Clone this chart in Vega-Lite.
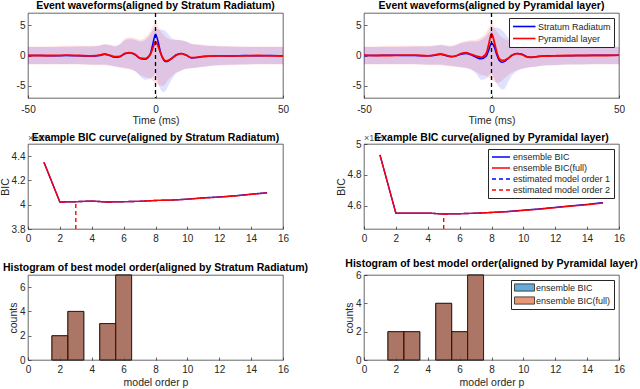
{
  "$schema": "https://vega.github.io/schema/vega-lite/v6.json",
  "padding": {"left": 0, "top": 0, "right": 0, "bottom": 0},
  "background": "white",
  "columns": 2,
  "spacing": {"row": 46, "column": 81},
  "bounds": "flush",
  "resolve": {
    "scale": {"stroke": "independent", "strokeDash": "independent", "fill": "independent", "color": "independent"},
    "legend": {"stroke": "independent", "strokeDash": "independent", "fill": "independent", "color": "independent"}
  },
  "datasets": {
    "w1": [
      {"t": -50, "sr": 0, "srlo": -1.4, "srhi": 1.4, "py": 0, "pylo": -1.5, "pyhi": 1.5},
      {"t": -45, "sr": 0, "srlo": -1.4, "srhi": 1.4, "py": 0, "pylo": -1.5, "pyhi": 1.5},
      {"t": -40, "sr": -0.05, "srlo": -1.4, "srhi": 1.4, "py": 0, "pylo": -1.5, "pyhi": 1.5},
      {"t": -35, "sr": 0, "srlo": -1.4, "srhi": 1.4, "py": 0.05, "pylo": -1.5, "pyhi": 1.6},
      {"t": -30, "sr": -0.05, "srlo": -1.4, "srhi": 1.5, "py": 0, "pylo": -1.5, "pyhi": 1.6},
      {"t": -25, "sr": -0.1, "srlo": -1.5, "srhi": 1.5, "py": -0.05, "pylo": -1.6, "pyhi": 1.6},
      {"t": -22, "sr": 0, "srlo": -1.5, "srhi": 1.6, "py": 0.05, "pylo": -1.6, "pyhi": 1.7},
      {"t": -20, "sr": 0.2, "srlo": -1.5, "srhi": 1.8, "py": 0.25, "pylo": -1.6, "pyhi": 1.9},
      {"t": -18, "sr": 0, "srlo": -1.6, "srhi": 1.7, "py": 0.05, "pylo": -1.7, "pyhi": 1.8},
      {"t": -16, "sr": -0.3, "srlo": -1.8, "srhi": 1.5, "py": -0.2, "pylo": -1.8, "pyhi": 1.6},
      {"t": -14, "sr": -0.2, "srlo": -1.9, "srhi": 1.8, "py": -0.15, "pylo": -2.0, "pyhi": 1.9},
      {"t": -12, "sr": 0.3, "srlo": -2.0, "srhi": 2.5, "py": 0.35, "pylo": -2.2, "pyhi": 2.8},
      {"t": -10, "sr": 0.45, "srlo": -2.2, "srhi": 2.7, "py": 0.45, "pylo": -2.3, "pyhi": 3.0},
      {"t": -8, "sr": 0.1, "srlo": -2.6, "srhi": 2.6, "py": 0.2, "pylo": -2.6, "pyhi": 2.8},
      {"t": -6, "sr": -0.5, "srlo": -3.4, "srhi": 2.3, "py": -0.45, "pylo": -3.2, "pyhi": 2.6},
      {"t": -4, "sr": -0.6, "srlo": -4.0, "srhi": 2.6, "py": -0.5, "pylo": -3.6, "pyhi": 3.0},
      {"t": -2, "sr": 0.3, "srlo": -3.8, "srhi": 3.5, "py": 0.2, "pylo": -3.8, "pyhi": 4.0},
      {"t": -1, "sr": 2.0, "srlo": -3.5, "srhi": 4.2, "py": 1.3, "pylo": -4.2, "pyhi": 4.8},
      {"t": 0, "sr": 3.5, "srlo": -3.0, "srhi": 4.4, "py": 2.3, "pylo": -4.5, "pyhi": 5.3},
      {"t": 1, "sr": 2.3, "srlo": -4.5, "srhi": 4.3, "py": 1.6, "pylo": -4.8, "pyhi": 4.8},
      {"t": 2, "sr": 0.5, "srlo": -5.6, "srhi": 4.3, "py": 0.4, "pylo": -5.0, "pyhi": 4.0},
      {"t": 3, "sr": -0.6, "srlo": -6.0, "srhi": 4.2, "py": -0.5, "pylo": -5.0, "pyhi": 3.5},
      {"t": 4, "sr": -1.0, "srlo": -5.8, "srhi": 4.0, "py": -0.9, "pylo": -4.6, "pyhi": 3.0},
      {"t": 5, "sr": -0.9, "srlo": -5.0, "srhi": 3.5, "py": -0.8, "pylo": -4.0, "pyhi": 2.8},
      {"t": 6, "sr": -0.6, "srlo": -4.2, "srhi": 3.0, "py": -0.6, "pylo": -3.6, "pyhi": 2.6},
      {"t": 8, "sr": 0.1, "srlo": -3.0, "srhi": 2.6, "py": 0.0, "pylo": -2.8, "pyhi": 2.6},
      {"t": 10, "sr": 0.35, "srlo": -2.5, "srhi": 2.5, "py": 0.3, "pylo": -2.5, "pyhi": 2.5},
      {"t": 12, "sr": 0.1, "srlo": -2.2, "srhi": 2.3, "py": 0.05, "pylo": -2.2, "pyhi": 2.3},
      {"t": 14, "sr": -0.4, "srlo": -2.1, "srhi": 1.9, "py": -0.35, "pylo": -2.1, "pyhi": 2.0},
      {"t": 16, "sr": -0.35, "srlo": -2.0, "srhi": 1.8, "py": -0.3, "pylo": -2.0, "pyhi": 1.8},
      {"t": 18, "sr": -0.2, "srlo": -1.9, "srhi": 1.7, "py": -0.2, "pylo": -1.9, "pyhi": 1.8},
      {"t": 20, "sr": -0.15, "srlo": -1.8, "srhi": 1.6, "py": -0.1, "pylo": -1.8, "pyhi": 1.7},
      {"t": 22, "sr": -0.1, "srlo": -1.7, "srhi": 1.6, "py": -0.1, "pylo": -1.7, "pyhi": 1.6},
      {"t": 25, "sr": -0.05, "srlo": -1.6, "srhi": 1.5, "py": -0.05, "pylo": -1.6, "pyhi": 1.6},
      {"t": 30, "sr": -0.1, "srlo": -1.5, "srhi": 1.5, "py": -0.05, "pylo": -1.6, "pyhi": 1.5},
      {"t": 35, "sr": 0, "srlo": -1.5, "srhi": 1.4, "py": -0.05, "pylo": -1.5, "pyhi": 1.5},
      {"t": 40, "sr": -0.05, "srlo": -1.4, "srhi": 1.4, "py": 0, "pylo": -1.5, "pyhi": 1.5},
      {"t": 45, "sr": 0, "srlo": -1.4, "srhi": 1.4, "py": -0.05, "pylo": -1.5, "pyhi": 1.5},
      {"t": 50, "sr": -0.05, "srlo": -1.4, "srhi": 1.4, "py": -0.1, "pylo": -1.5, "pyhi": 1.5}
    ],
    "w2": [
      {"t": -50, "sr": 0, "srlo": -1.4, "srhi": 1.4, "py": 0.05, "pylo": -1.5, "pyhi": 1.5},
      {"t": -45, "sr": 0, "srlo": -1.4, "srhi": 1.4, "py": 0, "pylo": -1.5, "pyhi": 1.5},
      {"t": -40, "sr": 0.05, "srlo": -1.4, "srhi": 1.4, "py": 0, "pylo": -1.5, "pyhi": 1.6},
      {"t": -35, "sr": 0, "srlo": -1.4, "srhi": 1.4, "py": 0.05, "pylo": -1.5, "pyhi": 1.6},
      {"t": -30, "sr": 0, "srlo": -1.4, "srhi": 1.5, "py": 0.05, "pylo": -1.5, "pyhi": 1.6},
      {"t": -25, "sr": -0.05, "srlo": -1.5, "srhi": 1.5, "py": -0.05, "pylo": -1.6, "pyhi": 1.6},
      {"t": -22, "sr": 0.05, "srlo": -1.5, "srhi": 1.6, "py": 0.1, "pylo": -1.6, "pyhi": 1.7},
      {"t": -20, "sr": 0.2, "srlo": -1.5, "srhi": 1.7, "py": 0.25, "pylo": -1.6, "pyhi": 1.8},
      {"t": -18, "sr": 0, "srlo": -1.6, "srhi": 1.6, "py": 0.05, "pylo": -1.7, "pyhi": 1.7},
      {"t": -16, "sr": -0.2, "srlo": -1.7, "srhi": 1.5, "py": -0.15, "pylo": -1.8, "pyhi": 1.6},
      {"t": -14, "sr": -0.1, "srlo": -1.8, "srhi": 1.7, "py": -0.05, "pylo": -1.9, "pyhi": 1.8},
      {"t": -12, "sr": 0.2, "srlo": -1.9, "srhi": 2.0, "py": 0.3, "pylo": -2.0, "pyhi": 2.2},
      {"t": -10, "sr": 0.35, "srlo": -2.0, "srhi": 2.2, "py": 0.45, "pylo": -2.1, "pyhi": 2.4},
      {"t": -8, "sr": 0.1, "srlo": -2.3, "srhi": 2.3, "py": 0.2, "pylo": -2.3, "pyhi": 2.5},
      {"t": -6, "sr": -0.3, "srlo": -3.0, "srhi": 2.3, "py": -0.1, "pylo": -2.7, "pyhi": 2.6},
      {"t": -4, "sr": -0.55, "srlo": -4.0, "srhi": 2.6, "py": -0.3, "pylo": -3.2, "pyhi": 3.0},
      {"t": -2, "sr": -0.1, "srlo": -3.8, "srhi": 3.3, "py": 0.4, "pylo": -3.4, "pyhi": 3.8},
      {"t": -1, "sr": 1.0, "srlo": -3.2, "srhi": 3.8, "py": 2.0, "pylo": -3.6, "pyhi": 4.6},
      {"t": 0, "sr": 2.0, "srlo": -3.0, "srhi": 4.3, "py": 3.6, "pylo": -4.0, "pyhi": 5.3},
      {"t": 1, "sr": 1.5, "srlo": -3.8, "srhi": 4.5, "py": 2.4, "pylo": -4.3, "pyhi": 4.8},
      {"t": 2, "sr": 0.2, "srlo": -4.6, "srhi": 4.6, "py": 0.6, "pylo": -4.5, "pyhi": 4.0},
      {"t": 3, "sr": -0.8, "srlo": -5.2, "srhi": 4.5, "py": -0.5, "pylo": -4.4, "pyhi": 3.4},
      {"t": 4, "sr": -1.1, "srlo": -5.6, "srhi": 4.2, "py": -0.8, "pylo": -4.2, "pyhi": 3.0},
      {"t": 5, "sr": -1.0, "srlo": -5.5, "srhi": 3.8, "py": -0.8, "pylo": -3.8, "pyhi": 2.8},
      {"t": 6, "sr": -0.7, "srlo": -4.8, "srhi": 3.2, "py": -0.6, "pylo": -3.4, "pyhi": 2.6},
      {"t": 8, "sr": 0.05, "srlo": -3.3, "srhi": 2.6, "py": 0.0, "pylo": -2.8, "pyhi": 2.5},
      {"t": 10, "sr": 0.35, "srlo": -2.6, "srhi": 2.4, "py": 0.3, "pylo": -2.4, "pyhi": 2.4},
      {"t": 12, "sr": 0.2, "srlo": -2.2, "srhi": 2.2, "py": 0.15, "pylo": -2.2, "pyhi": 2.2},
      {"t": 14, "sr": -0.2, "srlo": -2.0, "srhi": 1.9, "py": -0.25, "pylo": -2.0, "pyhi": 1.9},
      {"t": 16, "sr": -0.3, "srlo": -1.9, "srhi": 1.7, "py": -0.3, "pylo": -1.9, "pyhi": 1.8},
      {"t": 18, "sr": -0.15, "srlo": -1.8, "srhi": 1.6, "py": -0.2, "pylo": -1.8, "pyhi": 1.7},
      {"t": 20, "sr": -0.1, "srlo": -1.7, "srhi": 1.6, "py": -0.1, "pylo": -1.7, "pyhi": 1.6},
      {"t": 22, "sr": -0.05, "srlo": -1.6, "srhi": 1.5, "py": -0.1, "pylo": -1.6, "pyhi": 1.6},
      {"t": 25, "sr": -0.05, "srlo": -1.6, "srhi": 1.5, "py": -0.05, "pylo": -1.6, "pyhi": 1.5},
      {"t": 30, "sr": -0.05, "srlo": -1.5, "srhi": 1.4, "py": 0, "pylo": -1.5, "pyhi": 1.5},
      {"t": 35, "sr": 0, "srlo": -1.5, "srhi": 1.4, "py": 0, "pylo": -1.5, "pyhi": 1.5},
      {"t": 40, "sr": 0.05, "srlo": -1.4, "srhi": 1.4, "py": 0, "pylo": -1.5, "pyhi": 1.5},
      {"t": 45, "sr": 0.05, "srlo": -1.4, "srhi": 1.4, "py": 0, "pylo": -1.5, "pyhi": 1.5},
      {"t": 50, "sr": 0.05, "srlo": -1.4, "srhi": 1.4, "py": 0.05, "pylo": -1.5, "pyhi": 1.5}
    ],
    "b1": [
      {"s": "ensemble BIC", "p": 1, "bic": 4.35},
      {"s": "ensemble BIC", "p": 2, "bic": 4.022},
      {"s": "ensemble BIC", "p": 3, "bic": 4.025},
      {"s": "ensemble BIC", "p": 4, "bic": 4.03},
      {"s": "ensemble BIC", "p": 5, "bic": 4.022},
      {"s": "ensemble BIC", "p": 6, "bic": 4.025},
      {"s": "ensemble BIC", "p": 7, "bic": 4.028},
      {"s": "ensemble BIC", "p": 8, "bic": 4.035},
      {"s": "ensemble BIC", "p": 9, "bic": 4.038},
      {"s": "ensemble BIC", "p": 10, "bic": 4.046},
      {"s": "ensemble BIC", "p": 11, "bic": 4.057},
      {"s": "ensemble BIC", "p": 12, "bic": 4.064},
      {"s": "ensemble BIC", "p": 13, "bic": 4.074},
      {"s": "ensemble BIC", "p": 14, "bic": 4.087},
      {"s": "ensemble BIC", "p": 15, "bic": 4.099},
      {"s": "ensemble BIC(full)", "p": 1, "bic": 4.35},
      {"s": "ensemble BIC(full)", "p": 2, "bic": 4.022},
      {"s": "ensemble BIC(full)", "p": 3, "bic": 4.025},
      {"s": "ensemble BIC(full)", "p": 4, "bic": 4.03},
      {"s": "ensemble BIC(full)", "p": 5, "bic": 4.022},
      {"s": "ensemble BIC(full)", "p": 6, "bic": 4.025},
      {"s": "ensemble BIC(full)", "p": 7, "bic": 4.028},
      {"s": "ensemble BIC(full)", "p": 8, "bic": 4.035},
      {"s": "ensemble BIC(full)", "p": 9, "bic": 4.038},
      {"s": "ensemble BIC(full)", "p": 10, "bic": 4.045},
      {"s": "ensemble BIC(full)", "p": 11, "bic": 4.055},
      {"s": "ensemble BIC(full)", "p": 12, "bic": 4.062},
      {"s": "ensemble BIC(full)", "p": 13, "bic": 4.072},
      {"s": "ensemble BIC(full)", "p": 14, "bic": 4.085},
      {"s": "ensemble BIC(full)", "p": 15, "bic": 4.097},
      {"s": "estimated model order 2", "p": 3, "bic": 3.8},
      {"s": "estimated model order 2", "p": 3, "bic": 4.025}
    ],
    "b2": [
      {"s": "ensemble BIC", "p": 1, "bic": 4.93},
      {"s": "ensemble BIC", "p": 2, "bic": 4.552},
      {"s": "ensemble BIC", "p": 3, "bic": 4.552},
      {"s": "ensemble BIC", "p": 4, "bic": 4.553},
      {"s": "ensemble BIC", "p": 5, "bic": 4.547},
      {"s": "ensemble BIC", "p": 6, "bic": 4.549},
      {"s": "ensemble BIC", "p": 7, "bic": 4.552},
      {"s": "ensemble BIC", "p": 8, "bic": 4.557},
      {"s": "ensemble BIC", "p": 9, "bic": 4.563},
      {"s": "ensemble BIC", "p": 10, "bic": 4.572},
      {"s": "ensemble BIC", "p": 11, "bic": 4.58},
      {"s": "ensemble BIC", "p": 12, "bic": 4.59},
      {"s": "ensemble BIC", "p": 13, "bic": 4.6},
      {"s": "ensemble BIC", "p": 14, "bic": 4.609},
      {"s": "ensemble BIC", "p": 15, "bic": 4.621},
      {"s": "ensemble BIC(full)", "p": 1, "bic": 4.93},
      {"s": "ensemble BIC(full)", "p": 2, "bic": 4.552},
      {"s": "ensemble BIC(full)", "p": 3, "bic": 4.552},
      {"s": "ensemble BIC(full)", "p": 4, "bic": 4.553},
      {"s": "ensemble BIC(full)", "p": 5, "bic": 4.547},
      {"s": "ensemble BIC(full)", "p": 6, "bic": 4.549},
      {"s": "ensemble BIC(full)", "p": 7, "bic": 4.552},
      {"s": "ensemble BIC(full)", "p": 8, "bic": 4.557},
      {"s": "ensemble BIC(full)", "p": 9, "bic": 4.562},
      {"s": "ensemble BIC(full)", "p": 10, "bic": 4.57},
      {"s": "ensemble BIC(full)", "p": 11, "bic": 4.578},
      {"s": "ensemble BIC(full)", "p": 12, "bic": 4.588},
      {"s": "ensemble BIC(full)", "p": 13, "bic": 4.598},
      {"s": "ensemble BIC(full)", "p": 14, "bic": 4.607},
      {"s": "ensemble BIC(full)", "p": 15, "bic": 4.618},
      {"s": "estimated model order 2", "p": 5, "bic": 4.45},
      {"s": "estimated model order 2", "p": 5, "bic": 4.547}
    ],
    "h1": [
      {"series": "ensemble BIC", "lo": 1.5, "hi": 2.5, "count": 2},
      {"series": "ensemble BIC", "lo": 2.5, "hi": 3.5, "count": 4},
      {"series": "ensemble BIC", "lo": 4.5, "hi": 5.5, "count": 3},
      {"series": "ensemble BIC", "lo": 5.5, "hi": 6.5, "count": 7},
      {"series": "ensemble BIC(full)", "lo": 1.5, "hi": 2.5, "count": 2},
      {"series": "ensemble BIC(full)", "lo": 2.5, "hi": 3.5, "count": 4},
      {"series": "ensemble BIC(full)", "lo": 4.5, "hi": 5.5, "count": 3},
      {"series": "ensemble BIC(full)", "lo": 5.5, "hi": 6.5, "count": 7}
    ],
    "h2": [
      {"series": "ensemble BIC", "lo": 1.5, "hi": 2.5, "count": 2},
      {"series": "ensemble BIC", "lo": 2.5, "hi": 3.5, "count": 2},
      {"series": "ensemble BIC", "lo": 4.5, "hi": 5.5, "count": 4},
      {"series": "ensemble BIC", "lo": 5.5, "hi": 6.5, "count": 2},
      {"series": "ensemble BIC", "lo": 6.5, "hi": 7.5, "count": 6},
      {"series": "ensemble BIC(full)", "lo": 1.5, "hi": 2.5, "count": 2},
      {"series": "ensemble BIC(full)", "lo": 2.5, "hi": 3.5, "count": 2},
      {"series": "ensemble BIC(full)", "lo": 4.5, "hi": 5.5, "count": 4},
      {"series": "ensemble BIC(full)", "lo": 5.5, "hi": 6.5, "count": 2},
      {"series": "ensemble BIC(full)", "lo": 6.5, "hi": 7.5, "count": 6}
    ]
  },
  "concat": [
    {
      "width": 255, "height": 85,
      "title": {"text": "Event waveforms(aligned by Stratum Radiatum)", "offset": 1},
      "data": {"name": "w1"},
      "layer": [
        {"mark": {"type": "area", "color": "#ff0000", "opacity": 0.12, "interpolate": "monotone"},
         "encoding": {
           "x": {"field": "t", "type": "quantitative", "scale": {"domain": [-50, 50], "nice": false}, "axis": {"values": [-50, 0, 50], "title": "Time (ms)", "labelExpr": "'' + datum.value"}},
           "y": {"field": "pylo", "type": "quantitative", "scale": {"domain": [-7, 7], "nice": false}, "axis": {"values": [-5, 0, 5], "title": null, "labelExpr": "'' + datum.value"}},
           "y2": {"field": "pyhi"}}},
        {"mark": {"type": "area", "color": "#0000ff", "opacity": 0.12, "interpolate": "monotone"},
         "encoding": {"x": {"field": "t", "type": "quantitative"}, "y": {"field": "srlo", "type": "quantitative"}, "y2": {"field": "srhi"}}},
        {"mark": {"type": "line", "strokeWidth": 1.5, "interpolate": "monotone"},
         "encoding": {"x": {"field": "t", "type": "quantitative"}, "y": {"field": "sr", "type": "quantitative"},
           "stroke": {"datum": "Stratum Radiatum", "type": "nominal", "scale": {"domain": ["Stratum Radiatum", "Pyramidal layer"], "range": ["#0000ff", "#ff0000"]}, "legend": null}}},
        {"mark": {"type": "line", "strokeWidth": 1.8, "interpolate": "monotone"},
         "encoding": {"x": {"field": "t", "type": "quantitative"}, "y": {"field": "py", "type": "quantitative"},
           "stroke": {"datum": "Pyramidal layer", "type": "nominal", "legend": null}}},
        {"data": {"values": [{"t": 0}]},
         "mark": {"type": "rule", "color": "black", "strokeDash": [4, 3], "strokeWidth": 1.3},
         "encoding": {"x": {"field": "t", "type": "quantitative"}}}
      ]
    },
    {
      "width": 255, "height": 85,
      "title": {"text": "Event waveforms(aligned by Pyramidal layer)", "offset": 1},
      "data": {"name": "w2"},
      "layer": [
        {"mark": {"type": "area", "color": "#ff0000", "opacity": 0.12, "interpolate": "monotone"},
         "encoding": {
           "x": {"field": "t", "type": "quantitative", "scale": {"domain": [-50, 50], "nice": false}, "axis": {"values": [-50, 0, 50], "title": "Time (ms)", "labelExpr": "'' + datum.value"}},
           "y": {"field": "pylo", "type": "quantitative", "scale": {"domain": [-7, 7], "nice": false}, "axis": {"values": [-5, 0, 5], "title": null, "labelExpr": "'' + datum.value"}},
           "y2": {"field": "pyhi"}}},
        {"mark": {"type": "area", "color": "#0000ff", "opacity": 0.12, "interpolate": "monotone"},
         "encoding": {"x": {"field": "t", "type": "quantitative"}, "y": {"field": "srlo", "type": "quantitative"}, "y2": {"field": "srhi"}}},
        {"mark": {"type": "line", "strokeWidth": 1.5, "interpolate": "monotone"},
         "encoding": {"x": {"field": "t", "type": "quantitative"}, "y": {"field": "sr", "type": "quantitative"},
           "stroke": {"datum": "Stratum Radiatum", "type": "nominal", "scale": {"domain": ["Stratum Radiatum", "Pyramidal layer"], "range": ["#0000ff", "#ff0000"]},
             "legend": {"title": null, "orient": "top-right", "offset": 5, "fillColor": "white", "strokeColor": "#262626", "padding": 3, "labelFontSize": 9, "symbolType": "M-1,0H4", "symbolSize": 81, "symbolStrokeWidth": 1.6, "rowPadding": 1, "labelOffset": 15}}}},
        {"mark": {"type": "line", "strokeWidth": 1.8, "interpolate": "monotone"},
         "encoding": {"x": {"field": "t", "type": "quantitative"}, "y": {"field": "py", "type": "quantitative"},
           "stroke": {"datum": "Pyramidal layer", "type": "nominal"}}},
        {"data": {"values": [{"t": 0}]},
         "mark": {"type": "rule", "color": "black", "strokeDash": [4, 3], "strokeWidth": 1.3},
         "encoding": {"x": {"field": "t", "type": "quantitative"}}}
      ]
    },
    {
      "width": 255, "height": 85,
      "title": {"text": "Example BIC curve(aligned by Stratum Radiatum)", "offset": -9},
      "data": {"name": "b1"},
      "encoding": {
        "x": {"field": "p", "type": "quantitative", "scale": {"domain": [0, 16], "nice": false}, "axis": {"values": [0, 2, 4, 6, 8, 10, 12, 14, 16], "title": null, "format": "d", "labelPadding": 7}},
        "y": {"field": "bic", "type": "quantitative", "scale": {"domain": [3.8, 4.5], "nice": false, "zero": false}, "axis": {"values": [3.8, 4, 4.2, 4.4], "title": "BIC", "labelExpr": "'' + datum.value"}}
      },
      "layer": [
        {"mark": {"type": "line", "strokeWidth": 1.4},
         "encoding": {
           "stroke": {"field": "s", "type": "nominal", "scale": {"domain": ["ensemble BIC", "ensemble BIC(full)", "estimated model order 1", "estimated model order 2"], "range": ["#0000ff", "#ff0000", "#0000ff", "#ff0000"]}, "legend": null},
           "strokeDash": {"field": "s", "type": "nominal", "scale": {"domain": ["ensemble BIC", "ensemble BIC(full)", "estimated model order 1", "estimated model order 2"], "range": [[1, 0], [1, 0], [4, 3], [4, 3]]}, "legend": null}}},
        {"data": {"values": [{"p": 0, "bic": 4.5, "label": "×10⁴"}]},
         "mark": {"type": "text", "align": "left", "baseline": "bottom", "dy": -1, "fontSize": 9, "color": "#555555"},
         "encoding": {"text": {"field": "label"}}}
      ]
    },
    {
      "width": 255, "height": 85,
      "title": {"text": "Example BIC curve(aligned by Pyramidal layer)", "offset": -9},
      "data": {"name": "b2"},
      "encoding": {
        "x": {"field": "p", "type": "quantitative", "scale": {"domain": [0, 16], "nice": false}, "axis": {"values": [0, 2, 4, 6, 8, 10, 12, 14, 16], "title": null, "format": "d", "labelPadding": 7}},
        "y": {"field": "bic", "type": "quantitative", "scale": {"domain": [4.45, 5], "nice": false, "zero": false}, "axis": {"values": [4.6, 4.8, 5], "title": "BIC", "labelExpr": "'' + datum.value"}}
      },
      "layer": [
        {"mark": {"type": "line", "strokeWidth": 1.4},
         "encoding": {
           "stroke": {"field": "s", "type": "nominal", "scale": {"domain": ["ensemble BIC", "ensemble BIC(full)", "estimated model order 1", "estimated model order 2"], "range": ["#0000ff", "#ff0000", "#0000ff", "#ff0000"]},
             "legend": {"title": null, "orient": "top-right", "offset": 5, "fillColor": "white", "strokeColor": "#262626", "padding": 3, "labelFontSize": 9, "symbolType": "M-1,0H3.5", "symbolSize": 64, "symbolStrokeWidth": 1.5, "rowPadding": 1, "labelOffset": 12}},
           "strokeDash": {"field": "s", "type": "nominal", "scale": {"domain": ["ensemble BIC", "ensemble BIC(full)", "estimated model order 1", "estimated model order 2"], "range": [[1, 0], [1, 0], [4, 3], [4, 3]]},
             "legend": {"title": null, "orient": "top-right", "offset": 5, "fillColor": "white", "strokeColor": "#262626", "padding": 3, "labelFontSize": 9, "symbolType": "M-1,0H3.5", "symbolSize": 64, "symbolStrokeWidth": 1.5, "rowPadding": 1, "labelOffset": 12}}}},
        {"data": {"values": [{"p": 0, "bic": 5, "label": "×10⁴"}]},
         "mark": {"type": "text", "align": "left", "baseline": "bottom", "dy": -1, "fontSize": 9, "color": "#555555"},
         "encoding": {"text": {"field": "label"}}}
      ]
    },
    {
      "width": 255, "height": 85,
      "title": {"text": "Histogram of best model order(aligned by Stratum Radiatum)", "offset": 1},
      "data": {"name": "h1"},
      "mark": {"type": "bar", "fillOpacity": 0.6, "stroke": "#1a1a1a", "strokeWidth": 0.8},
      "encoding": {
        "x": {"field": "lo", "type": "quantitative", "scale": {"domain": [0, 16], "nice": false}, "axis": {"values": [0, 2, 4, 6, 8, 10, 12, 14, 16], "title": "model order p", "format": "d", "labelPadding": 7, "titlePadding": 3}},
        "x2": {"field": "hi"},
        "y": {"field": "count", "type": "quantitative", "scale": {"domain": [0, 7], "nice": false}, "axis": {"values": [0, 2, 4, 6], "title": "counts"}},
        "y2": {"datum": 0},
        "fill": {"field": "series", "type": "nominal", "scale": {"domain": ["ensemble BIC", "ensemble BIC(full)"], "range": ["#0072BD", "#D95319"]}, "legend": null}
      }
    },
    {
      "width": 255, "height": 85,
      "title": {"text": "Histogram of best model order(aligned by Pyramidal layer)", "offset": 1},
      "data": {"name": "h2"},
      "mark": {"type": "bar", "fillOpacity": 0.6, "stroke": "#1a1a1a", "strokeWidth": 0.8},
      "encoding": {
        "x": {"field": "lo", "type": "quantitative", "scale": {"domain": [0, 16], "nice": false}, "axis": {"values": [0, 2, 4, 6, 8, 10, 12, 14, 16], "title": "model order p", "format": "d", "labelPadding": 7, "titlePadding": 3}},
        "x2": {"field": "hi"},
        "y": {"field": "count", "type": "quantitative", "scale": {"domain": [0, 6], "nice": false}, "axis": {"values": [0, 2, 4, 6], "title": "counts"}},
        "y2": {"datum": 0},
        "fill": {"field": "series", "type": "nominal", "scale": {"domain": ["ensemble BIC", "ensemble BIC(full)"], "range": ["#0072BD", "#D95319"]},
          "legend": {"title": null, "orient": "top-right", "offset": 5, "fillColor": "white", "strokeColor": "#262626", "padding": 3, "labelFontSize": 9, "symbolType": "M-1,-0.9H4V0.9H-1Z", "symbolSize": 64, "symbolStrokeColor": "#262626", "symbolStrokeWidth": 0.8, "rowPadding": 2, "labelOffset": 13,
            "encode": {"symbols": {"update": {"fillOpacity": {"value": 0.6}, "strokeOpacity": {"value": 1}}}}}}
      }
    }
  ],
  "config": {
    "font": "Liberation Sans",
    "view": {"stroke": "#262626", "strokeWidth": 0.7},
    "axis": {"domain": false, "grid": false, "tickSize": -3, "tickColor": "#262626", "tickWidth": 0.7, "labelPadding": 6, "labelOverlap": false, "labelFlush": false, "labelFont": "Liberation Sans", "labelFontSize": 10, "labelColor": "#262626", "titleFont": "Liberation Sans", "titleFontSize": 10.5, "titleFontWeight": "normal", "titleColor": "#262626", "titlePadding": 3},
    "axisX": {"labelPadding": 9, "titlePadding": 1},
    "axisY": {"titlePadding": 0.5},
    "title": {"font": "Liberation Sans", "fontSize": 10.5, "fontWeight": "bold", "color": "black", "offset": 4},
    "legend": {"labelFont": "Liberation Sans", "labelColor": "#262626"}
  }
}
